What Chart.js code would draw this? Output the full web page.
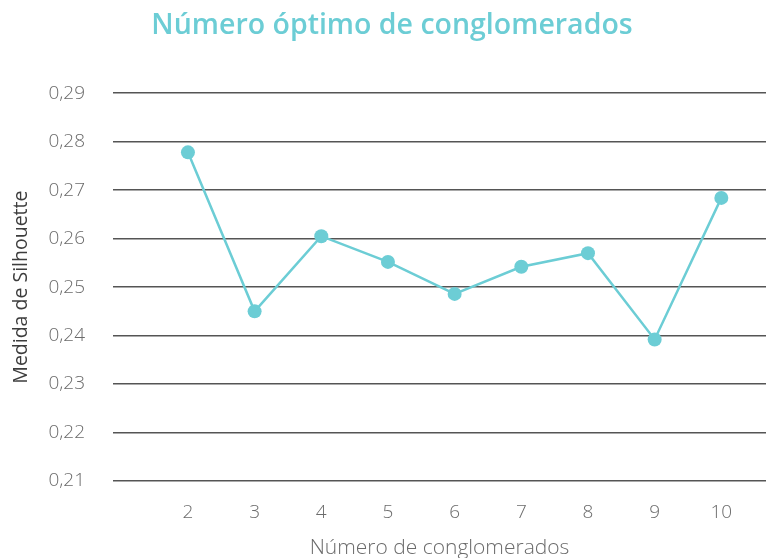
<!DOCTYPE html>
<html lang="es">
<head>
<meta charset="utf-8">
<title>Número óptimo de conglomerados</title>
<script src="https://cdn.jsdelivr.net/npm/chart.js@4.4.1/dist/chart.umd.min.js"></script>
<style>
    html, body { margin: 0; padding: 0; background: #ffffff; }
    .chart-box { position: relative; width: 766px; height: 558px; }
</style>
</head>
<body>
<div class="chart-box"><canvas id="silhouetteChart"></canvas></div>
<script>
// number of clusters tried and the mean silhouette for each
const clusterCounts = [2, 3, 4, 5, 6, 7, 8, 9, 10];
const silhouetteScores = [0.2778, 0.2450, 0.2605, 0.2552, 0.2486, 0.2542, 0.2570, 0.2392, 0.2684];
const yTicks = [0.21, 0.22, 0.23, 0.24, 0.25, 0.26, 0.27, 0.28, 0.29];

const TEAL = '#6ccdd5';
const GREY_TEXT = '#6b6b6b';
const FONT = '"Open Sans", sans-serif';

function formatComma(value) {
    return value.toFixed(2).replace('.', ',');
}

const ctx = document.getElementById('silhouetteChart').getContext('2d');

new Chart(ctx, {
    type: 'line',
    data: {
        datasets: [{
            label: 'Medida de Silhouette',
            data: clusterCounts.map(function (k, i) { return { x: k, y: silhouetteScores[i] }; }),
            borderColor: TEAL,
            backgroundColor: TEAL,
            borderWidth: 2.5,
            pointRadius: 7,
            pointHoverRadius: 7,
            pointBorderWidth: 0,
            tension: 0
        }]
    },
    options: {
        responsive: true,
        maintainAspectRatio: false,
        animation: false,
        layout: {
            autoPadding: false,
            padding: { top: 9, left: 18, right: 0, bottom: 0 }
        },
        plugins: {
            legend: { display: false },
            tooltip: { enabled: false },
            title: {
                display: true,
                text: 'Número óptimo de conglomerados',
                color: TEAL,
                font: { family: FONT, size: 28.5, weight: '600' },
                padding: { top: 0, bottom: 50 }
            }
        },
        scales: {
            x: {
                type: 'linear',
                min: 0.876,
                max: 10.67,
                afterBuildTicks: function (scale) {
                    scale.ticks = clusterCounts.map(function (v) { return { value: v }; });
                },
                grid: { display: false },
                border: { display: false },
                ticks: {
                    color: GREY_TEXT,
                    font: { family: FONT, size: 19, weight: '300' },
                    padding: 12,
                    maxRotation: 0
                },
                title: {
                    display: true,
                    text: 'Número de conglomerados',
                    color: GREY_TEXT,
                    font: { family: FONT, size: 21, weight: '300' },
                    padding: { top: 0, bottom: -3 }
                }
            },
            y: {
                min: 0.21,
                max: 0.29,
                afterBuildTicks: function (scale) {
                    scale.ticks = yTicks.map(function (v) { return { value: v }; });
                },
                // keep the plot's left edge fixed at x = 113
                afterFit: function (scale) {
                    scale.width = 95;
                },
                grid: {
                    color: '#555555',
                    lineWidth: 1.5,
                    drawTicks: false
                },
                border: { display: false },
                ticks: {
                    color: GREY_TEXT,
                    font: { family: FONT, size: 19, weight: '300' },
                    padding: 28,
                    callback: function (value) { return formatComma(value); }
                },
                title: {
                    display: true,
                    text: 'Medida de Silhouette',
                    color: '#3d3d3d',
                    font: { family: FONT, size: 19.5, weight: 'normal' },
                    padding: { top: -8, bottom: 0 }
                }
            }
        }
    }
});
</script>
</body>
</html>
